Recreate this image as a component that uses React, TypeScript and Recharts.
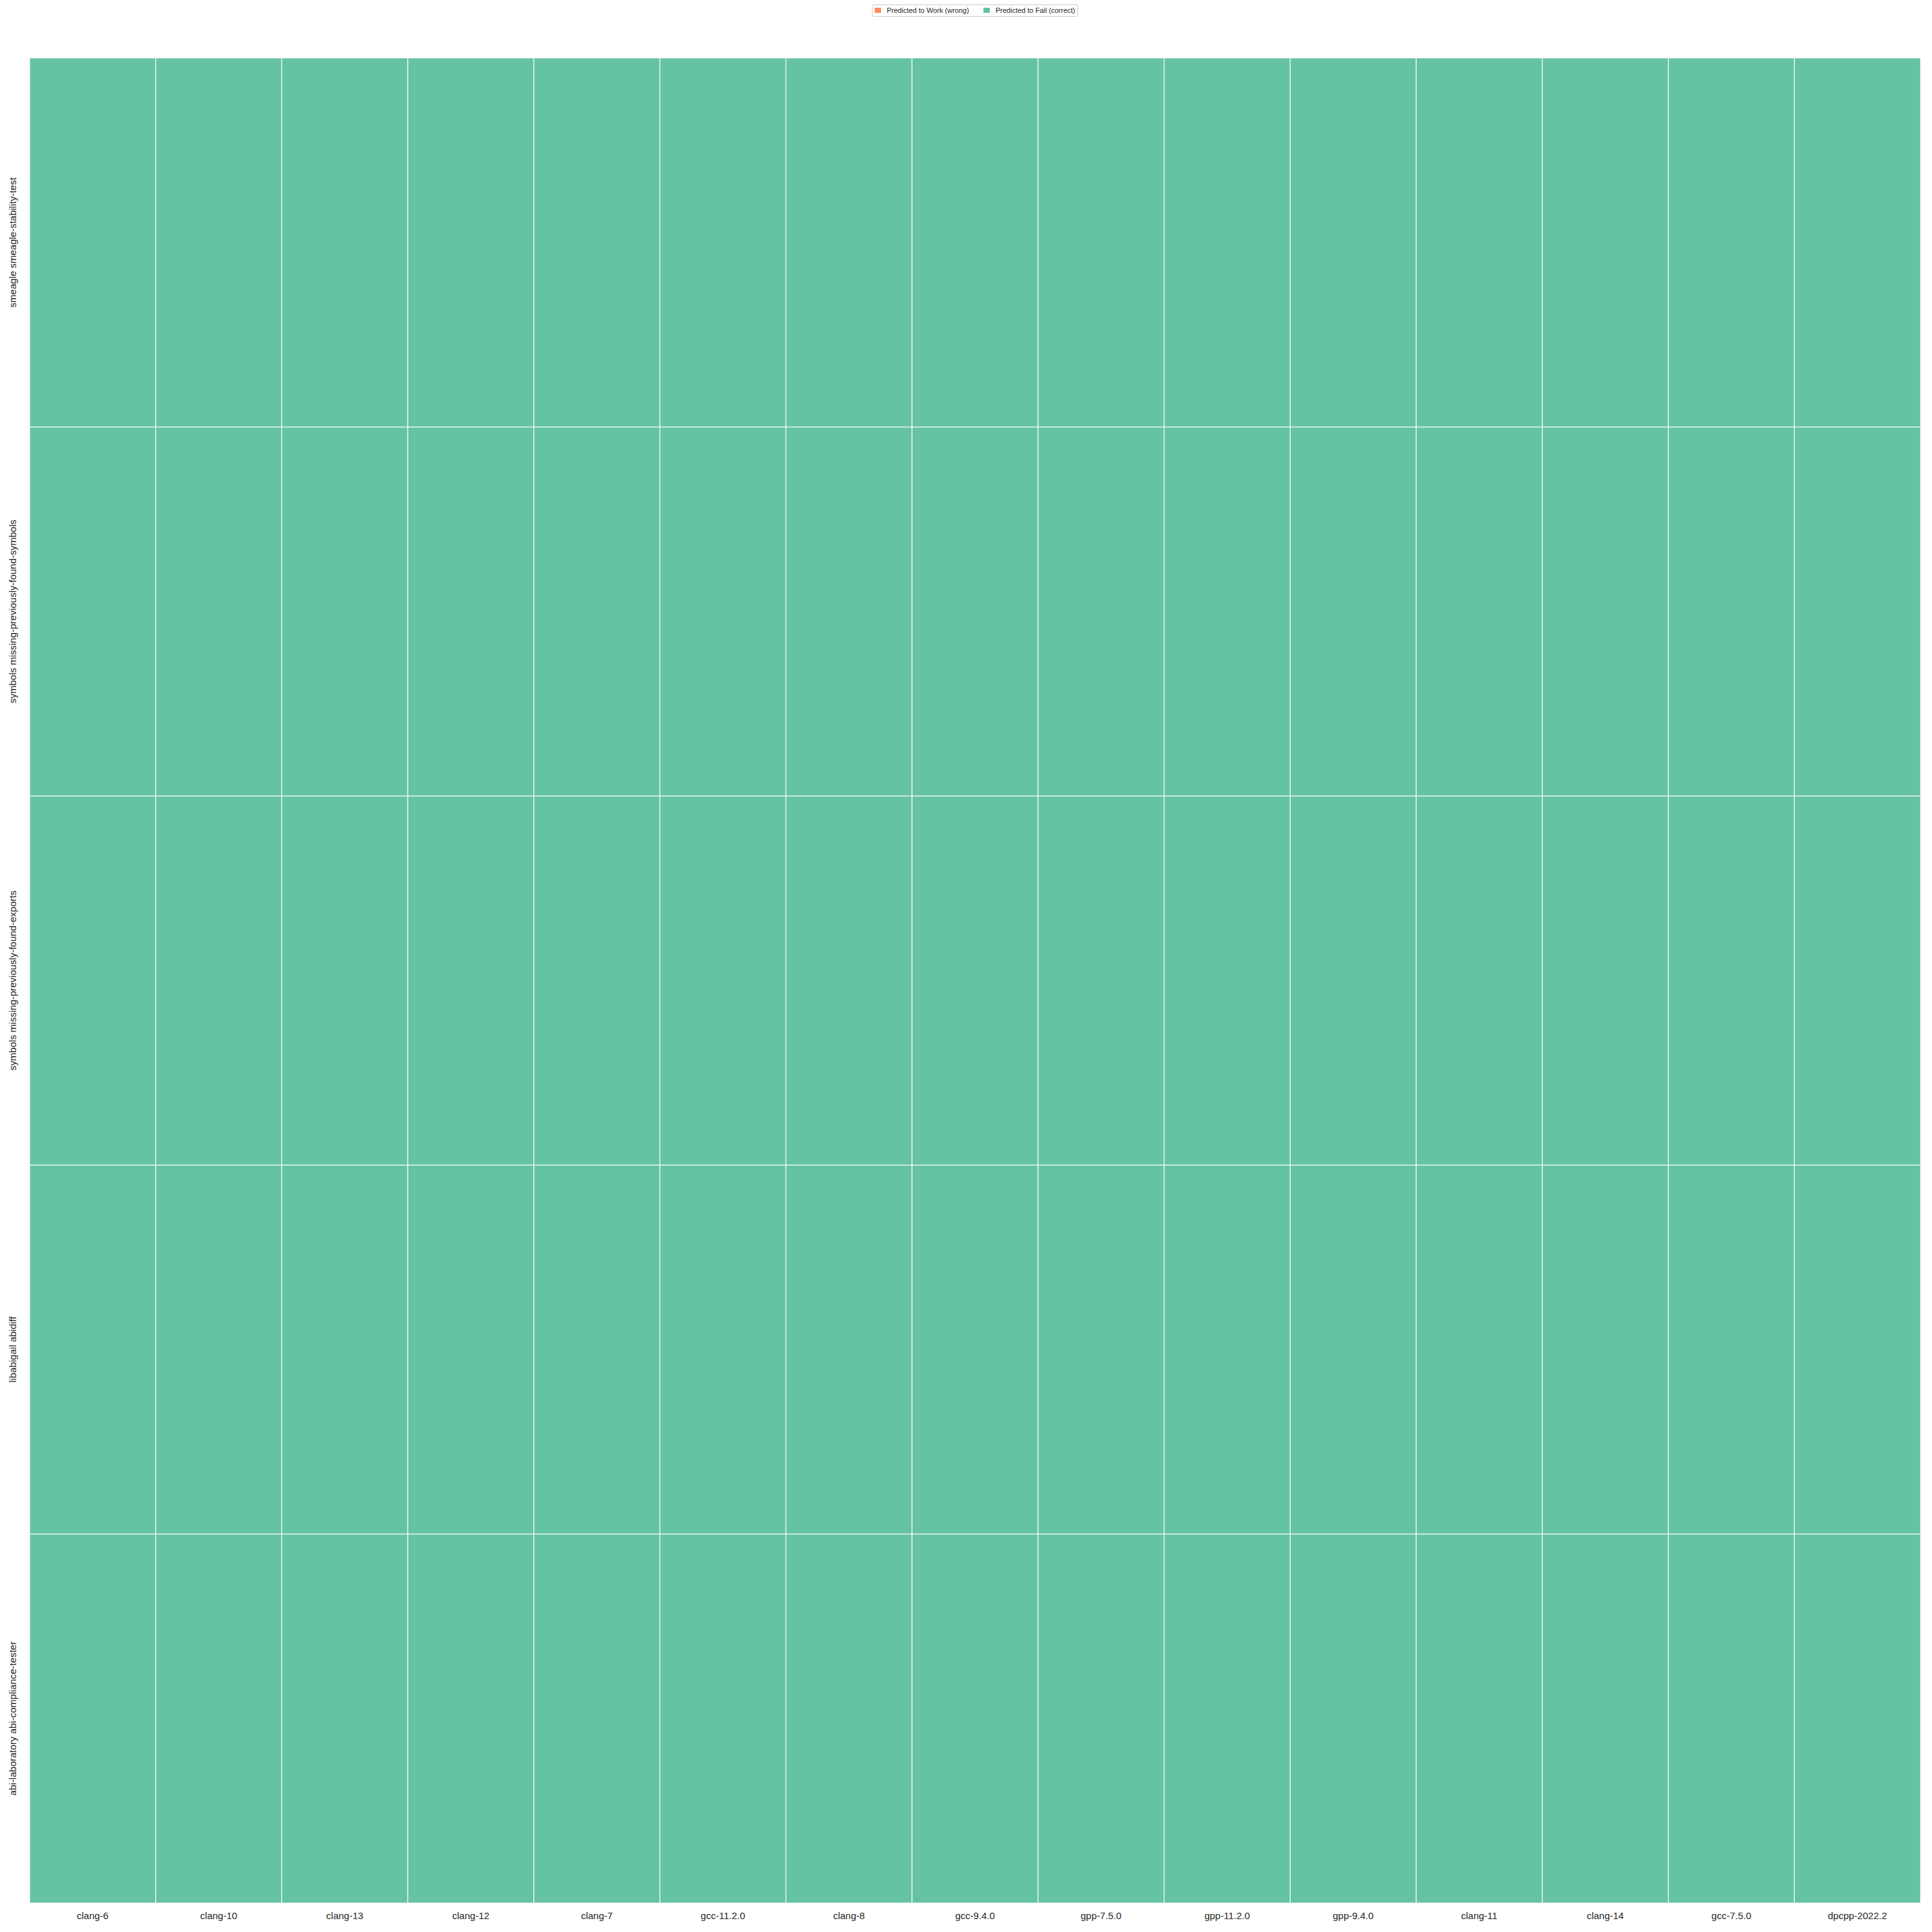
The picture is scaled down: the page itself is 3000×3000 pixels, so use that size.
import { BarChart, Bar, XAxis, YAxis, Cell } from "recharts";

const compilers = [
  "clang-6", "clang-10", "clang-13", "clang-12", "clang-7",
  "gcc-11.2.0", "clang-8", "gcc-9.4.0", "gpp-7.5.0", "gpp-11.2.0",
  "gpp-9.4.0", "clang-11", "clang-14", "gcc-7.5.0", "dpcpp-2022.2",
];

// top to bottom, as shown
const tests = [
  "smeagle smeagle-stability-test",
  "symbols missing-previously-found-symbols",
  "symbols missing-previously-found-exports",
  "libabigail abidiff",
  "abi-laboratory abi-compliance-tester",
];

// "fail" = predicted to fail (correct), "work" = predicted to work (wrong)
const outcomes = [
  ["fail", "fail", "fail", "fail", "fail", "fail", "fail", "fail", "fail", "fail", "fail", "fail", "fail", "fail", "fail"],
  ["fail", "fail", "fail", "fail", "fail", "fail", "fail", "fail", "fail", "fail", "fail", "fail", "fail", "fail", "fail"],
  ["fail", "fail", "fail", "fail", "fail", "fail", "fail", "fail", "fail", "fail", "fail", "fail", "fail", "fail", "fail"],
  ["fail", "fail", "fail", "fail", "fail", "fail", "fail", "fail", "fail", "fail", "fail", "fail", "fail", "fail", "fail"],
  ["fail", "fail", "fail", "fail", "fail", "fail", "fail", "fail", "fail", "fail", "fail", "fail", "fail", "fail", "fail"],
];

const legendItems = [
  { key: "work", label: "Predicted to Work (wrong)", color: "#fc8d62" },
  { key: "fail", label: "Predicted to Fail (correct)", color: "#66c2a5" },
];

const colorOf = (o: string) => legendItems.find((l) => l.key === o)!.color;

const FONT = '"Liberation Sans", Arial, sans-serif';
const TEXT = "#262626";

// one row per compiler; stacked bars drawn bottom-up, so last test first
const stackOrder = tests.map((_, i) => tests.length - 1 - i);
const data = compilers.map((name) => {
  const row: Record<string, any> = { name };
  tests.forEach((_, t) => {
    row["t" + t] = 1;
  });
  return row;
});

const XTick = ({ x, y, payload }: any) => (
  <text
    x={x}
    y={y + 11}
    textAnchor="middle"
    dominantBaseline="central"
    fontSize={15}
    fontFamily={FONT}
    fill={TEXT}
  >
    {payload.value}
  </text>
);

const YTick = ({ y, payload }: any) => {
  const label = tests[tests.length - 1 - Math.floor(payload.value)];
  return (
    <text
      x={19}
      y={y}
      transform={`rotate(-90, 19, ${y})`}
      textAnchor="middle"
      dominantBaseline="central"
      fontSize={15}
      fontFamily={FONT}
      fill={TEXT}
    >
      {label}
    </text>
  );
};

export default function App() {
  return (
    <div style={{ position: "absolute", left: 0, top: 0, width: 3000, height: 3000, background: "#fff" }}>
      <div
        style={{
          position: "absolute",
          left: 1354,
          top: 7,
          width: 318,
          height: 17,
          border: "1px solid #cccccc",
          borderRadius: 3,
          background: "#fff",
          fontFamily: FONT,
          fontSize: 11,
          color: TEXT,
          zIndex: 2,
        }}
      >
        {legendItems.map((it, i) => (
          <div key={it.key}>
            <div
              style={{
                position: "absolute",
                left: i === 0 ? 3 : 172,
                top: 4,
                width: 10,
                height: 8,
                background: it.color,
              }}
            />
            <div
              style={{
                position: "absolute",
                left: i === 0 ? 22 : 191,
                top: 1,
                lineHeight: "14px",
                whiteSpace: "nowrap",
              }}
            >
              {it.label}
            </div>
          </div>
        ))}
      </div>
      <BarChart
        width={3000}
        height={3000}
        data={data}
        margin={{ top: 90, right: 18, left: 0, bottom: 0 }}
        barCategoryGap={0}
        barGap={0}
      >
        <XAxis
          dataKey="name"
          height={45}
          interval={0}
          axisLine={false}
          tickLine={false}
          tick={<XTick />}
        />
        <YAxis
          type="number"
          domain={[0, tests.length]}
          ticks={tests.map((_, i) => i + 0.5)}
          width={46}
          axisLine={false}
          tickLine={false}
          tick={<YTick />}
        />
        {stackOrder.map((t) => (
          <Bar
            key={t}
            dataKey={"t" + t}
            stackId="grid"
            isAnimationActive={false}
            stroke="#ffffff"
            strokeWidth={1.2}
          >
            {compilers.map((c, ci) => (
              <Cell key={c} fill={colorOf(outcomes[t][ci])} />
            ))}
          </Bar>
        ))}
      </BarChart>
    </div>
  );
}
